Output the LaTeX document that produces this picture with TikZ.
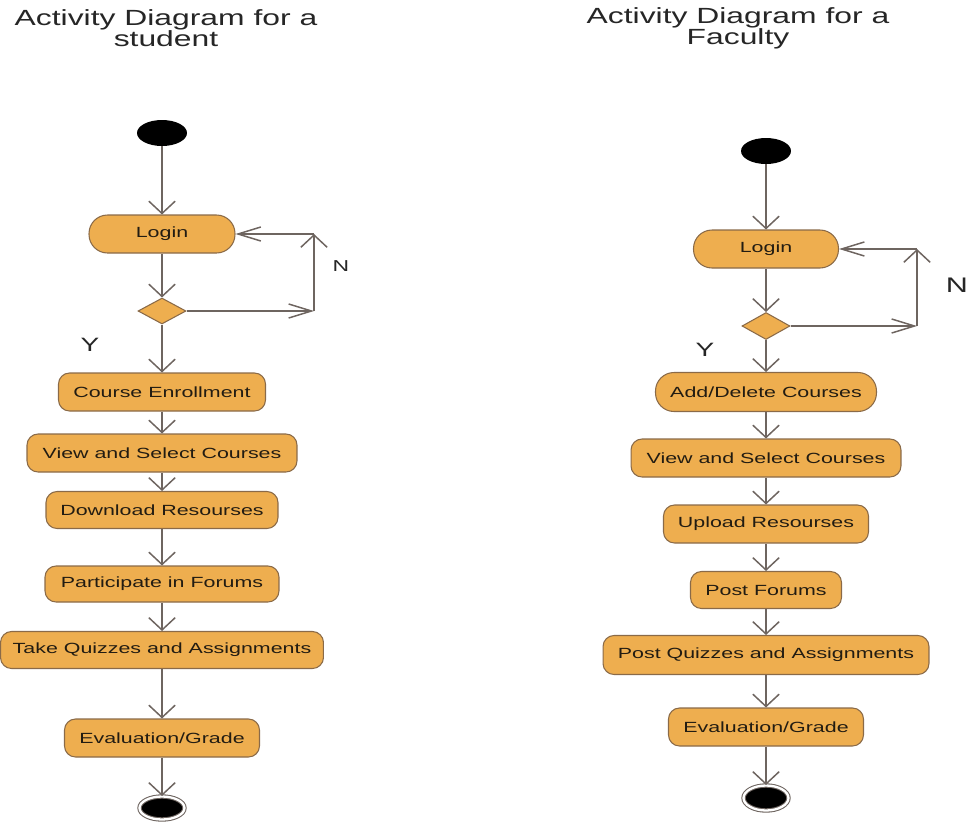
\documentclass[tikz,border=0pt]{standalone}
\usepackage{fontspec}
\setmainfont{Liberation Sans}[FakeStretch=1.45]
\usetikzlibrary{arrows.meta,positioning,shapes.geometric}
\definecolor{actfill}{HTML}{EEAE4F}
\definecolor{actline}{HTML}{8A6A48}
\definecolor{flow}{HTML}{6E6560}
\definecolor{txt}{HTML}{221C12}

\begin{document}
\begin{tikzpicture}[x=0.02cm,y=-0.02cm,
  act/.style={draw=actline,fill=actfill,rounded corners=2.2mm,minimum height=7.6mm,inner sep=0pt,font=\fontsize{8.4}{10}\selectfont,text=txt,line width=0.6pt},
  pill/.style={act,rounded corners=3.7mm},
  dec/.style={diamond,draw=actline,fill=actfill,minimum width=9.6mm,minimum height=5.2mm,inner sep=0pt,line width=0.6pt},
  init/.style={ellipse,fill=black,minimum width=10mm,minimum height=5.2mm,inner sep=0pt},
  final/.style={ellipse,draw=flow,fill=black,double=white,double distance=1.3pt,line width=0.6pt,minimum width=9mm,minimum height=4.6mm,inner sep=0pt},
  arr/.style={-{Straight Barb[length=7pt,width=15pt]},draw=flow,line width=0.85pt},
  harr/.style={-{Straight Barb[length=13pt,width=8pt]},draw=flow,line width=0.85pt},
  ttl/.style={align=center,text=black!85,font=\fontsize{12.5}{11.9}\selectfont},
  yn/.style={text=black!85}]
\useasboundingbox (0,0) rectangle (968,822);
% student column
\node[ttl] (stTitle) at (166,28) {Activity Diagram for a\\student};
\node[init] (stStart) at (162,133) {};
\node[pill,minimum width=29.2mm] (stLogin) at (162,234) {Login};
\node[dec] (stCheck) at (162,311) {};
\coordinate (stOut) at (314,311);
\coordinate (stBack) at (314,234);
\node[yn,font=\fontsize{9}{9}\selectfont] (stN) at (341,266) {N};
\node[yn,font=\fontsize{11}{11}\selectfont] (stY) at (90,345) {Y};
\node[act,minimum width=41.4mm] (stEnroll) at (162,392) {Course Enrollment};
\node[act,minimum width=54mm] (stSelect) at (162,453) {View and Select Courses};
\node[act,minimum width=46.4mm,minimum height=7.4mm] (stDown) at (162,510) {Download Resourses};
\node[act,minimum width=46.8mm,minimum height=7.2mm] (stForum) at (162,584) {Participate in Forums};
\node[act,minimum width=64.6mm,minimum height=7.4mm] (stQuiz) at (162,650) {Take Quizzes and Assignments};
\node[act,minimum width=39mm] (stGrade) at (162,738) {Evaluation/Grade};
\node[final] (stEnd) at (162,808) {};
\draw[arr] (stStart)--(stLogin); \draw[arr] (stLogin)--(stCheck);
\draw[harr] (stCheck)--(stOut); \draw[arr] (stOut)--(stBack); \draw[harr] (stBack)--(stLogin);
\draw[arr] (stCheck)--(stEnroll); \draw[arr] (stEnroll)--(stSelect); \draw[arr] (stSelect)--(stDown);
\draw[arr] (stDown)--(stForum); \draw[arr] (stForum)--(stQuiz); \draw[arr] (stQuiz)--(stGrade);
\draw[arr] (stGrade)--(stEnd);
% faculty column
\node[ttl] (fcTitle) at (738,28) {Activity Diagram for a\\Faculty};
\node[init] (fcStart) at (766,151) {};
\node[pill,minimum width=29mm] (fcLogin) at (766,249) {Login};
\node[dec,minimum height=5.4mm] (fcCheck) at (766,326) {};
\coordinate (fcOut) at (917,326);
\coordinate (fcBack) at (917,249);
\node[yn,font=\fontsize{12}{12}\selectfont] (fcN) at (957,285) {N};
\node[yn,font=\fontsize{11}{11}\selectfont] (fcY) at (705,350) {Y};
\node[pill,minimum width=44.2mm,minimum height=7.8mm] (fcAdd) at (766,392) {Add/Delete Courses};
\node[act,minimum width=54mm] (fcSelect) at (766,458) {View and Select Courses};
\node[act,minimum width=41mm] (fcUp) at (766,524) {Upload Resourses};
\node[act,minimum width=30.2mm,minimum height=7.4mm] (fcForum) at (766,590) {Post Forums};
\node[act,minimum width=65.2mm,minimum height=7.8mm] (fcQuiz) at (766,655) {Post Quizzes and Assignments};
\node[act,minimum width=39mm] (fcGrade) at (766,727) {Evaluation/Grade};
\node[final,minimum height=5mm] (fcEnd) at (766,798) {};
\draw[arr] (fcStart)--(fcLogin); \draw[arr] (fcLogin)--(fcCheck);
\draw[harr] (fcCheck)--(fcOut); \draw[arr] (fcOut)--(fcBack); \draw[harr] (fcBack)--(fcLogin);
\draw[arr] (fcCheck)--(fcAdd); \draw[arr] (fcAdd)--(fcSelect); \draw[arr] (fcSelect)--(fcUp);
\draw[arr] (fcUp)--(fcForum); \draw[arr] (fcForum)--(fcQuiz); \draw[arr] (fcQuiz)--(fcGrade);
\draw[arr] (fcGrade)--(fcEnd);
\end{tikzpicture}
\end{document}
